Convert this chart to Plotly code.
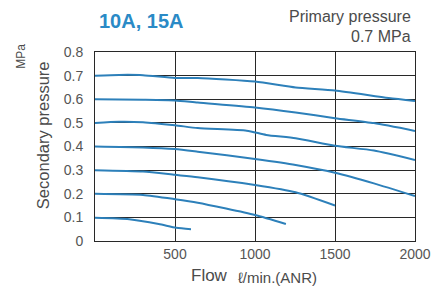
import plotly.graph_objects as go

# Data: flow (l/min ANR) vs secondary pressure (MPa) for each set pressure
flow_07 = [0, 150, 300, 500, 642, 1000, 1254, 1500, 1835, 2000]
p_07 = [0.700, 0.703, 0.702, 0.690, 0.690, 0.675, 0.650, 0.637, 0.605, 0.593]

flow_06 = [0, 300, 500, 642, 1000, 1254, 1500, 1743, 2000]
p_06 = [0.600, 0.598, 0.595, 0.586, 0.565, 0.544, 0.520, 0.499, 0.466]

flow_05 = [0, 150, 300, 500, 642, 948, 1070, 1254, 1500, 1743, 2000]
p_05 = [0.500, 0.505, 0.503, 0.490, 0.478, 0.467, 0.449, 0.435, 0.403, 0.383, 0.343]

flow_04 = [0, 300, 500, 642, 1000, 1254, 1500, 1743, 2000]
p_04 = [0.400, 0.396, 0.389, 0.378, 0.347, 0.322, 0.289, 0.244, 0.190]

flow_03 = [0, 300, 500, 642, 1000, 1254, 1500]
p_03 = [0.300, 0.294, 0.280, 0.270, 0.237, 0.206, 0.150]

flow_02 = [0, 300, 500, 642, 1000, 1193]
p_02 = [0.200, 0.195, 0.177, 0.162, 0.110, 0.072]

flow_01 = [0, 214, 398, 508, 600]
p_01 = [0.098, 0.092, 0.072, 0.056, 0.050]

x_ticks = [500, 1000, 1500, 2000]
y_ticks = [0, 0.1, 0.2, 0.3, 0.4, 0.5, 0.6, 0.7, 0.8]
y_tick_labels = ["0", "0.1", "0.2", "0.3", "0.4", "0.5", "0.6", "0.7", "0.8"]

series = [(flow_07, p_07), (flow_06, p_06), (flow_05, p_05), (flow_04, p_04),
          (flow_03, p_03), (flow_02, p_02), (flow_01, p_01)]

line_color = "rgb(45,128,186)"
text_gray = "rgb(75,75,75)"
font_family = "Liberation Sans, Arial, sans-serif"

W, H = 443, 290
L, R, T, B = 95, 21, 52, 49
pw, ph = W - L - R, H - T - B


def px(x):
    return (x - L) / pw


def py(y):
    return (H - B - y) / ph


fig = go.Figure()
for fx, fy in series:
    fig.add_trace(go.Scatter(x=fx, y=fy, mode="lines",
                             line=dict(color=line_color, width=2, shape="spline", smoothing=0.6),
                             showlegend=False, hoverinfo="skip"))

axis_common = dict(showgrid=True, gridcolor="rgb(40,40,40)", gridwidth=1,
                   showline=True, linecolor="rgb(40,40,40)", linewidth=1, mirror=True,
                   tickfont=dict(size=14, color="rgb(85,85,85)", family=font_family))

fig.update_layout(
    width=W, height=H,
    margin=dict(l=L, r=R, t=T, b=B),
    paper_bgcolor="white", plot_bgcolor="white",
    font=dict(family=font_family, color=text_gray),
    xaxis=dict(range=[0, 2000], tickvals=x_ticks, ticktext=[str(v) for v in x_ticks],
               zeroline=False, **axis_common),
    yaxis=dict(range=[0, 0.8], tickvals=y_ticks, ticktext=y_tick_labels,
               zeroline=False, ticklabelstandoff=8, **axis_common),
    annotations=[
        dict(text="<b>10A, 15A</b>", x=px(97), y=py(21), xref="paper", yref="paper",
             showarrow=False, font=dict(size=20, color="rgb(42,138,198)", family=font_family),
             xanchor="left", yanchor="middle"),
        dict(text="Primary pressure", x=px(420), y=py(16), xref="paper", yref="paper",
             showarrow=False, font=dict(size=16, color=text_gray),
             xanchor="right", yanchor="middle"),
        dict(text="0.7 MPa", x=px(420), y=py(36), xref="paper", yref="paper",
             showarrow=False, font=dict(size=16, color=text_gray),
             xanchor="right", yanchor="middle"),
        dict(text="Secondary pressure", x=px(42), y=py(135), xref="paper", yref="paper",
             showarrow=False, textangle=-90, font=dict(size=16.5, color=text_gray),
             xanchor="center", yanchor="middle"),
        dict(text="MPa", x=px(19), y=py(56), xref="paper", yref="paper",
             showarrow=False, textangle=-90, font=dict(size=12, color=text_gray),
             xanchor="center", yanchor="middle"),
        dict(text="Flow", x=px(212), y=py(275), xref="paper", yref="paper",
             showarrow=False, font=dict(size=17, color=text_gray),
             xanchor="center", yanchor="middle"),
        dict(text="ℓ/min.(ANR)", x=px(239), y=py(277), xref="paper", yref="paper",
             showarrow=False, font=dict(size=15, color=text_gray),
             xanchor="left", yanchor="middle"),
    ],
)

fig.write_html("out.html", config={"displayModeBar": False},
               post_script="document.body.style.margin='0';")
